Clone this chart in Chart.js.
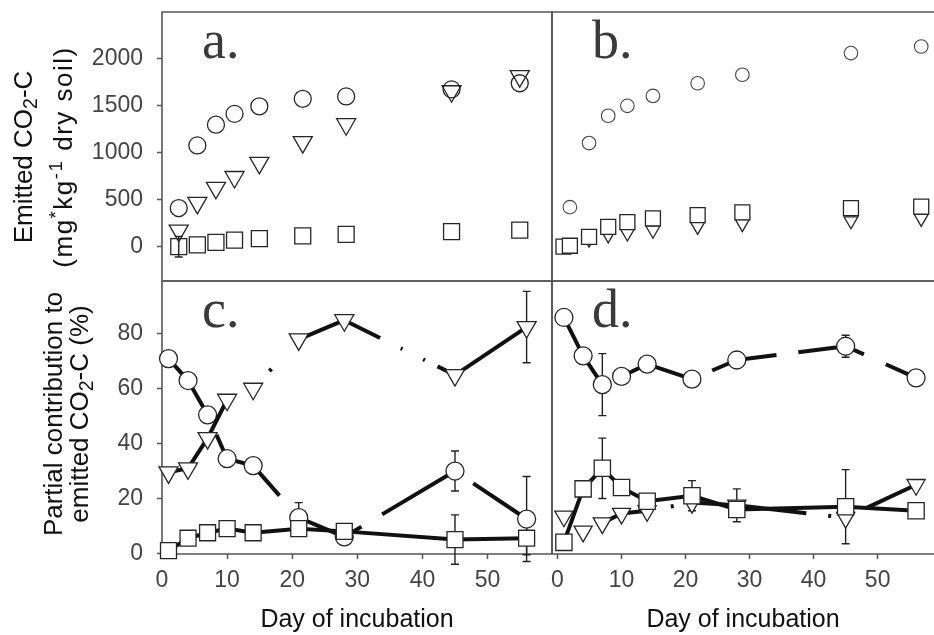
<!DOCTYPE html>
<html lang="en">
<head>
<meta charset="utf-8">
<title>Emitted CO2-C</title>
<script src="https://cdn.jsdelivr.net/npm/chart.js@4.4.1/dist/chart.umd.min.js"></script>
<style>
  html, body { margin: 0; padding: 0; background: #fff; }
  #panels { position: relative; width: 934px; height: 635px; }
  #panels canvas { position: absolute; left: 0; top: 0; }
</style>
</head>
<body>
<div id="panels">
  <canvas id="panelA" width="934" height="635"></canvas>
  <canvas id="panelB" width="934" height="635"></canvas>
  <canvas id="panelC" width="934" height="635"></canvas>
  <canvas id="panelD" width="934" height="635"></canvas>
</div>
<script>
// sampling days
const days = [1, 4, 7, 10, 14, 21, 28, 45, 56];
const daysSquareB = [0, 1, 4, 7, 10, 14, 21, 28, 45, 56];

// a. emitted CO2-C, mg/kg dry soil
const aCircle = [410, 1075, 1295, 1410, 1490, 1570, 1595, 1670, 1735];
const aTriangle = [170, 465, 625, 740, 890, 1110, 1300, 1650, 1810];
const aSquare = [0, 20, 45, 70, 85, 115, 130, 160, 175];
const aSquareErr = [110, null, null, null, null, null, null, null, null];

// b. emitted CO2-C, mg/kg dry soil
const bCircle = [420, 1100, 1390, 1495, 1600, 1735, 1825, 2055, 2125];
const bTriangle = [40, 80, 125, 145, 175, 215, 245, 275, 300];
const bSquare = [0, 10, 105, 210, 260, 300, 335, 365, 410, 425];

// c. partial contribution, %
const cCircle = [71, 63, 50.5, 34.5, 32, 13, 6, 30, 12.5];
const cCircleErr = [null, null, null, null, null, 5.5, null, 7.3, 15.5];
const cTriangle = [29.5, 31, 42, 56, 60, 78, 85, 65, 82.5];
const cTriangleErr = [null, null, null, null, null, null, null, null, 13];
const cSquare = [1, 5.5, 7.5, 9, 7.5, 9, 8, 5, 5.5];
const cSquareErr = [null, null, null, null, null, null, null, 9, 6];

// d. partial contribution, %
const dCircle = [86, 72, 61.5, 64.5, 69, 63.5, 70.5, 75.5, 64];
const dCircleErr = [null, null, 11.3, null, null, null, null, 4, null];
const dTriangle = [13.5, 8, 11, 14.5, 15.5, 18.5, 17.5, 13, 25];
const dTriangleErr = [null, null, null, null, null, null, 6, null, null];
const dSquare = [4, 23.5, 31, 24, 19, 21, 16, 17, 15.5];
const dSquareErr = [null, null, 11, null, null, 5.5, null, 13.5, null];

// tick labels
const emittedTicks = [0, 500, 1000, 1500, 2000];
const shareTicks = [0, 20, 40, 60, 80];
const dayTicks = [0, 10, 20, 30, 40, 50];

// stroke of each connecting segment (s = solid, x = none, others = dash patterns below)
const cCircleSeg = ['s', 's', 'q', 's', 'p', 's', 'r', 'q'];
const cTriangleSeg = ['s', 's', 's', 'x', 'd', 's', 'e', 's'];
const dCircleSeg = ['s', 's', 'x', 's', 's', 'q', 'p', 'r'];
const dTriangleSeg = ['x', 'x', 's', 's', 'd', 's', 'f', 'q'];

const dashes = {
  p: [40, 22, 300, 1],
  q: [0, 22, 300, 1],
  r: [20, 24, 300, 1],
  d: [0, 24, 3, 300],
  e: [40, 23, 2, 23, 2, 14, 300, 1],
  f: [70, 22, 3, 300]
};

const SANS = '"Liberation Sans", Arial, sans-serif';
const SERIF = '"Liberation Serif", "Times New Roman", serif';
Chart.defaults.font.family = SANS;

const pts = (xs, ys) => xs.map((x, i) => ({x, y: ys[i]}));

function segStyle(codes) {
  return {
    borderColor: c => codes[c.p0DataIndex] === 'x' ? 'rgba(0,0,0,0)' : undefined,
    borderDash: c => dashes[codes[c.p0DataIndex]]
  };
}

function series(xs, ys, shape, radius, extra) {
  return Object.assign({
    data: pts(xs, ys),
    pointStyle: shape === 'tri' ? 'triangle' : shape,
    pointRotation: shape === 'tri' ? 180 : 0,
    pointRadius: radius,
    pointHoverRadius: radius,
    pointBackgroundColor: '#fff',
    pointBorderColor: '#262626',
    pointBorderWidth: 1.3,
    borderColor: '#111',
    borderWidth: 4,
    tension: 0,
    showLine: false,
    clip: false
  }, extra);
}

const tickGrid = {drawOnChartArea: false, drawTicks: true, tickLength: 5, tickColor: '#555', tickWidth: 1.5};
const tickFont = {size: 23};

function yShown(min, max, ticks) {
  return {
    min, max,
    afterFit: s => {
      s.width = 162;
      s.paddingTop = 0;
      s.paddingBottom = 0;
    },
    afterBuildTicks: s => { s.ticks = ticks.map(v => ({value: v})); },
    grid: tickGrid,
    border: {display: false},
    ticks: {padding: 14, color: '#444', font: tickFont, callback: v => String(v)}
  };
}

function xShown(min, max) {
  return {
    type: 'linear', min, max,
    afterFit: s => {
      s.height = 81;
      s.paddingLeft = 0;
      s.paddingRight = 0;
    },
    afterBuildTicks: s => { s.ticks = dayTicks.map(v => ({value: v})); },
    grid: tickGrid,
    border: {display: false},
    ticks: {padding: 8, color: '#444', font: tickFont, autoSkip: false, maxRotation: 0},
    title: {display: true, text: 'Day of incubation', color: '#111', font: {size: 25}, padding: 0}
  };
}

const hidden = (min, max) => ({type: 'linear', display: false, min, max});

// rotated axis caption with real sub/superscripts
function richText(ctx, parts, baseX, centerY, size, spacing) {
  const pieces = parts.map(p => {
    if (typeof p === 'string') return {t: p, s: size, dy: 0};
    if (p.sub) return {t: p.sub, s: size * 0.75, dy: size * 0.2};
    return {t: p.sup, s: size * 0.72, dy: -size * 0.4};
  });
  ctx.save();
  ctx.letterSpacing = (spacing || 0) + 'px';
  let total = 0;
  pieces.forEach(p => {
    ctx.font = p.s + 'px ' + SANS;
    p.w = ctx.measureText(p.t).width;
    total += p.w;
  });
  ctx.translate(baseX, centerY);
  ctx.rotate(-Math.PI / 2);
  ctx.fillStyle = '#111';
  ctx.textBaseline = 'alphabetic';
  let cx = -total / 2;
  pieces.forEach(p => {
    ctx.font = p.s + 'px ' + SANS;
    ctx.fillText(p.t, cx, p.dy);
    cx += p.w;
  });
  ctx.restore();
}

const panelDecor = {
  id: 'panelDecor',
  beforeDatasetsDraw(chart) {
    const {ctx, chartArea: a, scales: {x, y}} = chart;
    ctx.save();
    // frame
    ctx.strokeStyle = '#555';
    ctx.lineWidth = 1.6;
    ctx.beginPath();
    ctx.moveTo(a.left, a.bottom);
    ctx.lineTo(a.left, a.top);
    ctx.lineTo(a.right, a.top);
    if (a.right < chart.width - 1) ctx.lineTo(a.right, a.bottom);
    ctx.moveTo(a.left, a.bottom);
    ctx.lineTo(a.right, a.bottom);
    ctx.stroke();
    // error bars
    ctx.strokeStyle = '#222';
    ctx.lineWidth = 1.4;
    chart.data.datasets.forEach(ds => {
      if (!ds.errors) return;
      ds.data.forEach((p, i) => {
        const e = ds.errors[i];
        if (e == null) return;
        const px = x.getPixelForValue(p.x);
        const top = y.getPixelForValue(p.y + e);
        const bot = y.getPixelForValue(p.y - e);
        ctx.beginPath();
        ctx.moveTo(px, top); ctx.lineTo(px, bot);
        ctx.moveTo(px - 4, top); ctx.lineTo(px + 4, top);
        ctx.moveTo(px - 4, bot); ctx.lineTo(px + 4, bot);
        ctx.stroke();
      });
    });
    ctx.restore();
  },
  afterDraw(chart, args, opts) {
    const {ctx, chartArea: a} = chart;
    ctx.save();
    ctx.fillStyle = '#3a3a3a';
    ctx.font = '54px ' + SERIF;
    ctx.textBaseline = 'alphabetic';
    ctx.fillText(opts.letter, a.left + 40, a.top + 46);
    ctx.restore();
    (opts.caption || []).forEach(line => richText(ctx, line.parts, line.x, opts.captionY, 26, line.spacing));
  }
};

function makePanel(id, datasets, scales, padding, decor) {
  return new Chart(document.getElementById(id), {
    type: 'scatter',
    data: {datasets},
    options: {
      responsive: false,
      animation: false,
      events: [],
      layout: {padding, autoPadding: false},
      scales,
      plugins: {legend: {display: false}, tooltip: {enabled: false}, panelDecor: decor}
    },
    plugins: [panelDecor]
  });
}

const noFill = {pointBackgroundColor: 'rgba(0,0,0,0)'};

makePanel('panelA', [
  series(days, aCircle, 'circle', 8.5, noFill),
  series(days, aTriangle, 'tri', 11, noFill),
  series(days, aSquare, 'rect', 11.3, Object.assign({errors: aSquareErr}, noFill))
], {
  x: hidden(-1.7, 61.2),
  y: yShown(-364, 2491, emittedTicks)
}, {left: 0, top: 12, right: 382, bottom: 354}, {
  letter: 'a.',
  captionY: 157,
  caption: [
    {x: 32, parts: ['Emitted CO', {sub: '2'}, '-C']},
    {x: 72, spacing: 1.5, parts: ['(mg', {sup: '*'}, 'kg', {sup: '-1'}, ' dry soil)']}
  ]
});

makePanel('panelB', [
  series(daysSquareB, bSquare, 'rect', 10.6),
  series(days, bTriangle, 'tri', 8),
  series(days, bCircle, 'circle', 6.8, {pointBorderColor: '#444', pointBorderWidth: 1.1})
], {
  x: hidden(-1.8, 58.0),
  y: hidden(-364, 2491)
}, {left: 552, top: 12, right: 0, bottom: 354}, {letter: 'b.'});

makePanel('panelC', [
  series(days, cSquare, 'rect', 11.3, {showLine: true, errors: cSquareErr}),
  series(days, cTriangle, 'tri', 11, {showLine: true, errors: cTriangleErr, segment: segStyle(cTriangleSeg)}),
  series(days, cCircle, 'circle', 9, {showLine: true, errors: cCircleErr, segment: segStyle(cCircleSeg)})
], {
  x: xShown(0, 59.9),
  y: yShown(-0.25, 99.3, shareTicks)
}, {left: 0, top: 281, right: 382, bottom: 0}, {
  letter: 'c.',
  captionY: 414,
  caption: [
    {x: 62, parts: ['Partial contribution to']},
    {x: 88, parts: ['emitted CO', {sub: '2'}, '-C (%)']}
  ]
});

makePanel('panelD', [
  series(days, dSquare, 'rect', 11.5, {showLine: true, errors: dSquareErr}),
  series(days, dTriangle, 'tri', 10.5, {showLine: true, errors: dTriangleErr, segment: segStyle(dTriangleSeg)}),
  series(days, dCircle, 'circle', 9, {showLine: true, errors: dCircleErr, segment: segStyle(dCircleSeg)})
], {
  x: xShown(-0.86, 58.8),
  y: hidden(-0.25, 99.3)
}, {left: 552, top: 281, right: 0, bottom: 0}, {letter: 'd.'});
</script>
</body>
</html>
